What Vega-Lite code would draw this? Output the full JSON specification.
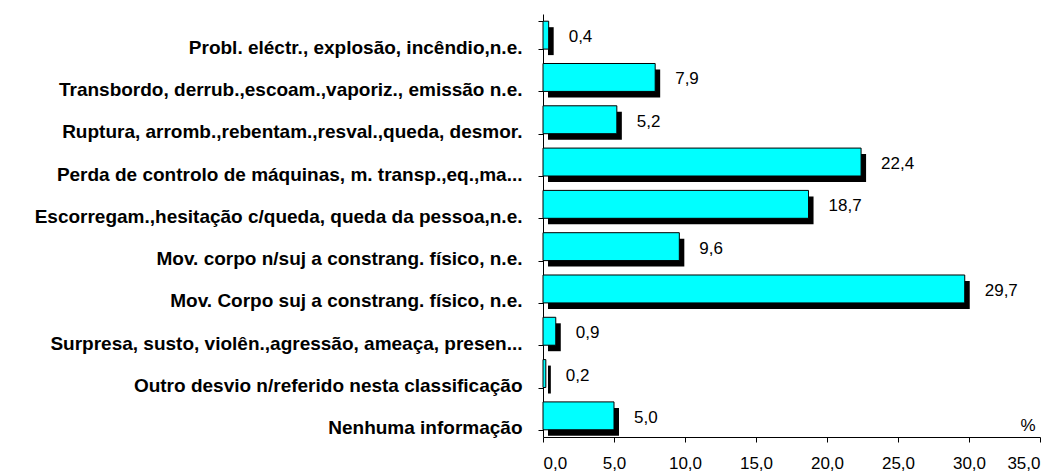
{
  "$schema": "https://vega.github.io/schema/vega-lite/v6.json",
  "width": 497,
  "height": 423,
  "autosize": {"type": "none"},
  "padding": {"left": 543, "top": 14, "right": 22, "bottom": 38},
  "background": "white",
  "config": {
    "locale": {"number": {"decimal": ",", "thousands": ".", "grouping": [3], "currency": ["", " €"]}},
    "view": {"stroke": null},
    "font": "Liberation Sans",
    "axis": {"domainColor": "black", "tickColor": "black", "labelColor": "black", "titleColor": "black", "grid": false}
  },
  "data": {
    "values": [
      {"cat": "Probl. eléctr., explosão, incêndio,n.e.", "v": 0.4},
      {"cat": "Transbordo, derrub.,escoam.,vaporiz., emissão n.e.", "v": 7.9},
      {"cat": "Ruptura, arromb.,rebentam.,resval.,queda, desmor.", "v": 5.2},
      {"cat": "Perda de controlo de máquinas, m. transp.,eq.,ma...", "v": 22.4},
      {"cat": "Escorregam.,hesitação c/queda, queda da pessoa,n.e.", "v": 18.7},
      {"cat": "Mov. corpo n/suj a constrang. físico, n.e.", "v": 9.6},
      {"cat": "Mov. Corpo suj a constrang. físico, n.e.", "v": 29.7},
      {"cat": "Surpresa, susto, violên.,agressão, ameaça, presen...", "v": 0.9},
      {"cat": "Outro desvio n/referido nesta classificação", "v": 0.2},
      {"cat": "Nenhuma informação", "v": 5.0}
    ]
  },
  "encoding": {
    "y": {
      "field": "cat",
      "type": "nominal",
      "sort": null,
      "scale": {"paddingInner": 0.34, "paddingOuter": 0.17},
      "axis": {
        "title": null,
        "tickBand": "extent",
        "tickSize": 5,
        "labelFontSize": 19,
        "labelFontWeight": "bold",
        "labelPadding": 16,
        "labelOffset": 12,
        "labelLimit": 0
      }
    }
  },
  "layer": [
    {
      "mark": {"type": "bar", "color": "black", "xOffset": 5, "yOffset": 6},
      "encoding": {
        "x": {
          "field": "v",
          "type": "quantitative",
          "scale": {"domain": [0, 35], "nice": false},
          "axis": {
            "values": [0, 5, 10, 15, 20, 25, 30, 35],
            "format": ".1f",
            "tickSize": 5,
            "labelFontSize": 17,
            "labelPadding": 13,
            "title": "%",
            "titleFontSize": 17,
            "titleFontWeight": "normal",
            "titleX": 492,
            "titleY": -7,
            "titleAlign": "right",
            "titleBaseline": "alphabetic",
            "titleAnchor": null
          }
        }
      }
    },
    {
      "mark": {"type": "bar", "fill": "#00FFFF", "stroke": "black", "strokeWidth": 1},
      "encoding": {"x": {"field": "v", "type": "quantitative"}}
    },
    {
      "mark": {"type": "text", "align": "left", "baseline": "middle", "dx": 20, "dy": 2, "fontSize": 17, "color": "black"},
      "encoding": {
        "x": {"field": "v", "type": "quantitative"},
        "text": {"field": "v", "type": "quantitative", "format": ".1f"}
      }
    }
  ]
}
